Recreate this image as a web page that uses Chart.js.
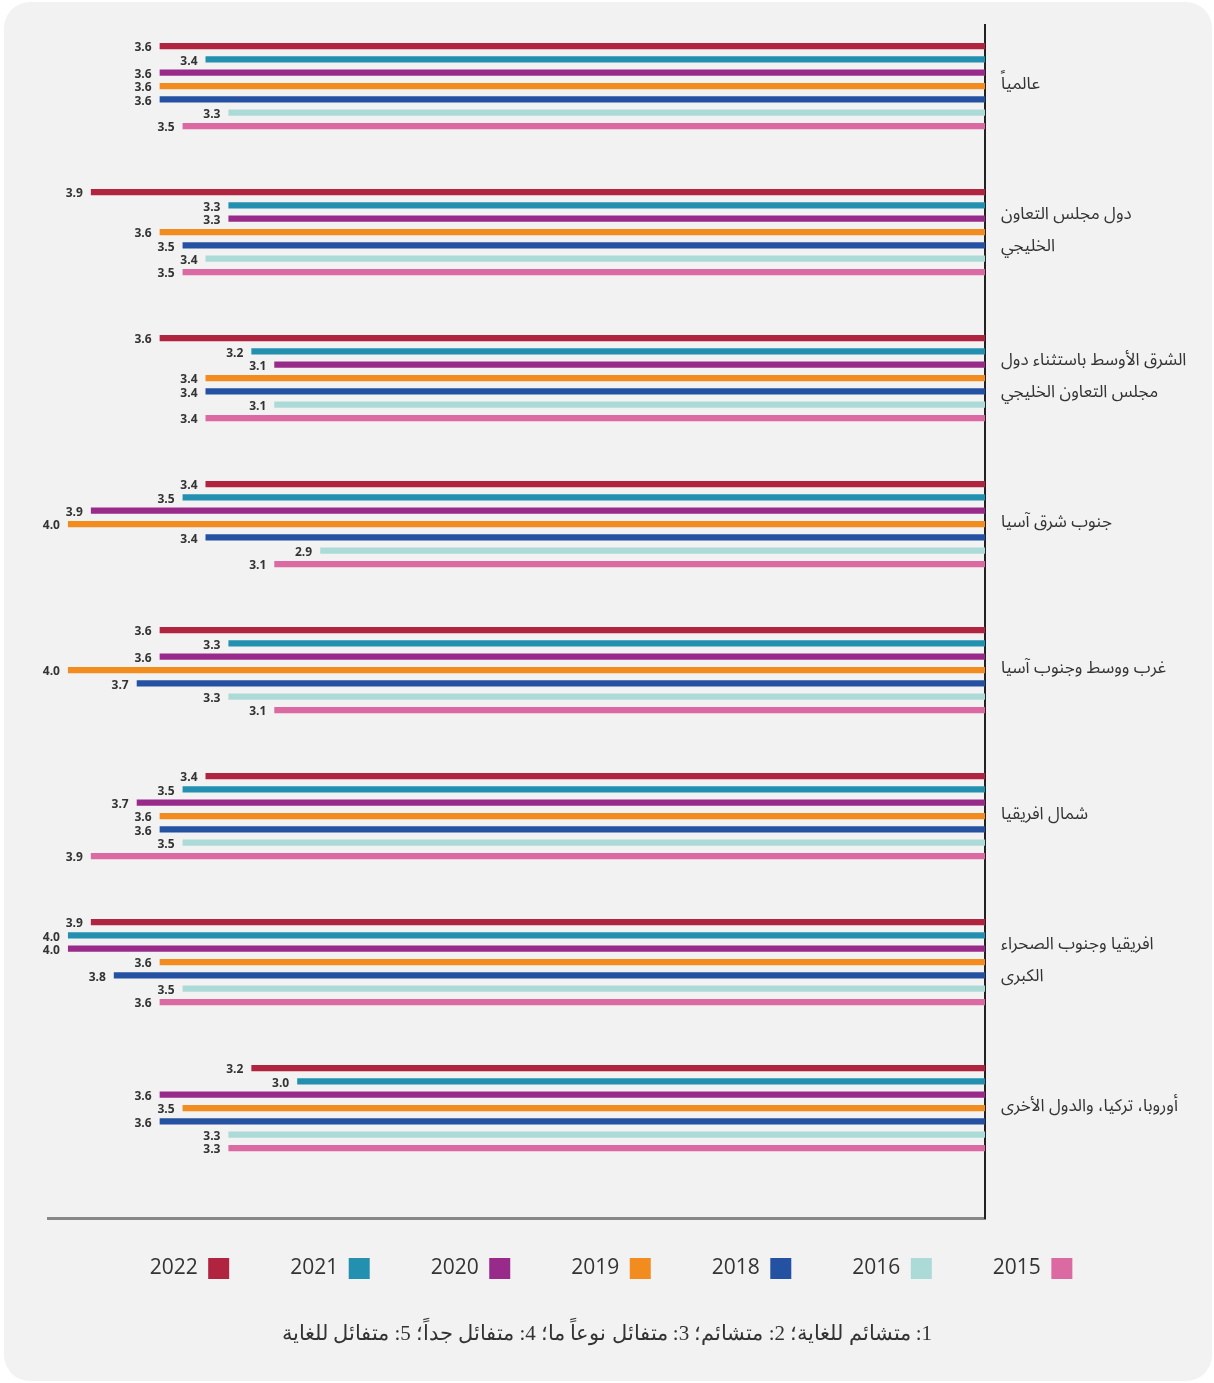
<!DOCTYPE html>
<html lang="ar">
<head>
<meta charset="utf-8">
<script src="https://cdn.jsdelivr.net/npm/chart.js@4"></script>
<style>
  html, body { margin: 0; padding: 0; background: #fff; }
  body { width: 1214px; height: 1383px; position: relative; overflow: hidden; }
  .card { position: absolute; left: 4px; top: 2px; width: 1208px; height: 1379px; border-radius: 26px; background: #f2f2f2; }
  #wrap { position: absolute; left: 0; top: 0; width: 1214px; height: 1320px; }
  .note { position: absolute; left: 0; width: 1214px; top: 1321px; text-align: center; font-family: "Liberation Serif", "DejaVu Serif", serif; font-size: 21px; color: #333; }
</style>
</head>
<body>
<div class="card"></div>
<div id="wrap"><canvas id="chart" width="1214" height="1320"></canvas></div>
<div class="note" dir="rtl">1: متشائم للغاية؛ 2: متشائم؛ 3: متفائل نوعاً ما؛ 4: متفائل جداً؛ 5: متفائل للغاية</div>
<script>
// regions, top to bottom
const categories = [
  'عالمياً',
  ['دول مجلس التعاون', 'الخليجي'],
  ['الشرق الأوسط باستثناء دول', 'مجلس التعاون الخليجي'],
  'جنوب شرق آسيا',
  'غرب ووسط وجنوب آسيا',
  'شمال افريقيا',
  ['افريقيا وجنوب الصحراء', 'الكبرى'],
  'أوروبا، تركيا، والدول الأخرى'
];

const years = ['2022', '2021', '2020', '2019', '2018', '2016', '2015'];

const y2022 = [3.6, 3.9, 3.6, 3.4, 3.6, 3.4, 3.9, 3.2];
const y2021 = [3.4, 3.3, 3.2, 3.5, 3.3, 3.5, 4.0, 3.0];
const y2020 = [3.6, 3.3, 3.1, 3.9, 3.6, 3.7, 4.0, 3.6];
const y2019 = [3.6, 3.6, 3.4, 4.0, 4.0, 3.6, 3.6, 3.5];
const y2018 = [3.6, 3.5, 3.4, 3.4, 3.7, 3.6, 3.8, 3.6];
const y2016 = [3.3, 3.4, 3.1, 2.9, 3.3, 3.5, 3.5, 3.3];
const y2015 = [3.5, 3.5, 3.4, 3.1, 3.1, 3.9, 3.6, 3.3];

const series = [y2022, y2021, y2020, y2019, y2018, y2016, y2015];
const colors = ['#b0243f', '#2390b0', '#982a8a', '#f28c1e', '#2451a1', '#acdbd7', '#db6aa3'];

// value labels at the end of each bar
const barLabels = {
  id: 'barLabels',
  afterDatasetsDraw(chart) {
    const ctx = chart.ctx;
    ctx.save();
    ctx.font = 'bold 12px "Open Sans", "DejaVu Sans", sans-serif';
    ctx.fillStyle = '#333';
    ctx.textAlign = 'right';
    ctx.textBaseline = 'middle';
    chart.data.datasets.forEach((ds, i) => {
      chart.getDatasetMeta(i).data.forEach((bar, j) => {
        ctx.fillText(ds.data[j].toFixed(1), bar.x - 8, bar.y + 2);
      });
    });
    ctx.restore();
  }
};

// pull the legend up closer to the axis and a bit to the left
const legendShift = {
  id: 'legendShift',
  afterLayout(chart) {
    const lg = chart.legend;
    const pad = lg.options.labels.padding;
    const h = lg.height;
    lg.top = chart.chartArea.bottom + 40 - pad;
    lg.bottom = lg.top + h;
    lg.left -= 20;
    lg.right -= 20;
  }
};

new Chart(document.getElementById('chart'), {
  type: 'bar',
  data: {
    labels: categories.map((c, i) => i),
    datasets: series.map((d, i) => ({
      label: years[i],
      data: d,
      backgroundColor: colors[i],
      borderWidth: 0,
      categoryPercentage: 0.639,
      barPercentage: 0.47
    }))
  },
  options: {
    indexAxis: 'y',
    responsive: false,
    animation: false,
    layout: { padding: { left: 48, right: 0, top: 25, bottom: 10 } },
    scales: {
      x: {
        reverse: true,
        min: 0,
        max: 4.087,
        grid: { display: false },
        ticks: { display: false },
        border: { color: '#888', width: 3 },
        afterFit(axis) { axis.height = 0; }
      },
      y: {
        type: 'linear',
        position: 'right',
        reverse: true,
        offset: false,
        min: -0.418,
        max: 7.753,
        grid: { display: false },
        border: { color: '#222', width: 2 },
        afterBuildTicks(axis) { axis.ticks = categories.map((c, i) => ({ value: i })); },
        afterFit(axis) {
          axis.width = 229;
          axis.paddingTop = 0;
          axis.paddingBottom = 0;
        },
        ticks: {
          padding: 8,
          color: '#333',
          autoSkip: false,
          font: { family: '"Noto Sans Arabic", "DejaVu Sans", sans-serif', size: 17, lineHeight: 1.88 },
          callback: (v) => categories[v]
        }
      }
    },
    plugins: {
      tooltip: { enabled: false },
      legend: {
        position: 'bottom',
        rtl: true,
        reverse: true,
        labels: {
          boxWidth: 21,
          boxHeight: 21,
          padding: 61,
          color: '#333',
          font: { family: '"Open Sans", sans-serif', size: 21 }
        }
      }
    }
  },
  plugins: [barLabels, legendShift]
});
</script>
</body>
</html>
